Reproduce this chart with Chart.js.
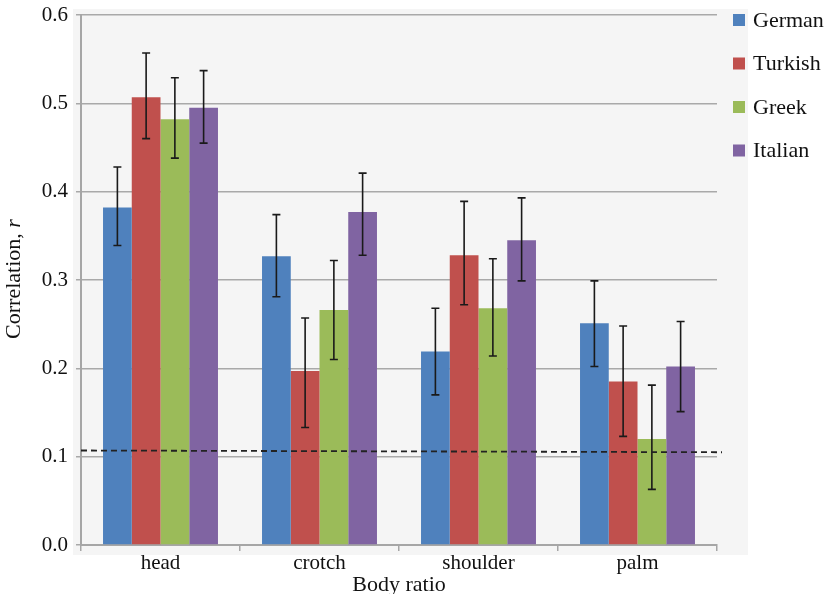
<!DOCTYPE html>
<html>
<head>
<meta charset="utf-8">
<script src="https://cdn.jsdelivr.net/npm/chart.js@4.4.1/dist/chart.umd.min.js"></script>
<style>
  html, body { margin: 0; padding: 0; background: #fff; }
  #wrap { width: 827px; height: 594px; position: relative; }
</style>
</head>
<body>
<div id="wrap"><canvas id="ratioChart"></canvas></div>
<script>
// body ratios on the x axis
const categories = ["head", "crotch", "shoulder", "palm"];

// mean correlation per group
const german  = [0.382, 0.327, 0.219, 0.251];
const turkish = [0.507, 0.197, 0.328, 0.185];
const greek   = [0.482, 0.266, 0.268, 0.120];
const italian = [0.495, 0.377, 0.345, 0.202];

// error bar ends (low / high)
const germanLow   = [0.339, 0.281, 0.170, 0.202];
const germanHigh  = [0.428, 0.374, 0.268, 0.299];
const turkishLow  = [0.460, 0.133, 0.272, 0.123];
const turkishHigh = [0.557, 0.257, 0.389, 0.248];
const greekLow    = [0.438, 0.210, 0.214, 0.063];
const greekHigh   = [0.529, 0.322, 0.324, 0.181];
const italianLow  = [0.455, 0.328, 0.299, 0.151];
const italianHigh = [0.537, 0.421, 0.393, 0.253];

// dashed significance line (left end, right end)
const thresholdLine = [0.107, 0.105];

const yTicks = [0.0, 0.1, 0.2, 0.3, 0.4, 0.5, 0.6];

const serif = "'Liberation Serif', 'DejaVu Serif', serif";

const errLow  = [germanLow, turkishLow, greekLow, italianLow];
const errHigh = [germanHigh, turkishHigh, greekHigh, italianHigh];

// light grey panel behind the plot
const panelBg = {
    id: "panelBg",
    beforeDraw(chart) {
        const { ctx, chartArea: a } = chart;
        ctx.save();
        ctx.fillStyle = "#f5f5f5";
        ctx.fillRect(a.left - 8, a.top - 6, a.right - a.left + 39, a.bottom - a.top + 16);
        ctx.restore();
    }
};

// error bars + dashed threshold line
const extras = {
    id: "extras",
    afterDatasetsDraw(chart) {
        const { ctx, scales: { y }, chartArea: a } = chart;
        ctx.save();
        ctx.strokeStyle = "#1a1a1a";
        ctx.lineWidth = 1.6;
        chart.data.datasets.forEach((ds, di) => {
            const meta = chart.getDatasetMeta(di);
            meta.data.forEach((bar, i) => {
                const yl = y.getPixelForValue(errLow[di][i]);
                const yh = y.getPixelForValue(errHigh[di][i]);
                ctx.beginPath();
                ctx.moveTo(bar.x, yl); ctx.lineTo(bar.x, yh);
                ctx.moveTo(bar.x - 4, yl); ctx.lineTo(bar.x + 4, yl);
                ctx.moveTo(bar.x - 4, yh); ctx.lineTo(bar.x + 4, yh);
                ctx.stroke();
            });
        });
        ctx.strokeStyle = "#222";
        ctx.lineWidth = 1.8;
        ctx.setLineDash([6, 4]);
        ctx.beginPath();
        ctx.moveTo(a.left, y.getPixelForValue(thresholdLine[0]));
        ctx.lineTo(a.right + 5, y.getPixelForValue(thresholdLine[1]));
        ctx.stroke();
        ctx.restore();
    },
    afterDraw(chart) {
        const { ctx } = chart;
        ctx.save();
        // y axis title with italic r
        const t1 = "Correlation, ";
        const t2 = "r";
        ctx.font = "22px " + serif;
        const w1 = ctx.measureText(t1).width;
        ctx.font = "italic 22px " + serif;
        const w2 = ctx.measureText(t2).width;
        ctx.translate(14, 279);
        ctx.rotate(-Math.PI / 2);
        ctx.fillStyle = "#111";
        ctx.textBaseline = "middle";
        ctx.textAlign = "left";
        ctx.font = "22px " + serif;
        ctx.fillText(t1, -(w1 + w2) / 2, 0);
        ctx.font = "italic 22px " + serif;
        ctx.fillText(t2, -(w1 + w2) / 2 + w1, 0);
        ctx.restore();

        // legend
        ctx.save();
        ctx.font = "22px " + serif;
        ctx.textBaseline = "middle";
        chart.data.datasets.forEach((ds, i) => {
            const cy = 20 + i * 43.5;
            ctx.fillStyle = ds.backgroundColor;
            ctx.fillRect(733, cy - 6, 12, 12);
            ctx.fillStyle = "#111";
            ctx.fillText(ds.label, 753, cy + 1);
        });
        ctx.restore();
    }
};

const ctx = document.getElementById("ratioChart").getContext("2d");

new Chart(ctx, {
    type: "bar",
    data: {
        labels: categories,
        datasets: [
            { label: "German",  data: german,  backgroundColor: "#4f81bd" },
            { label: "Turkish", data: turkish, backgroundColor: "#c0504d" },
            { label: "Greek",   data: greek,   backgroundColor: "#9bbb59" },
            { label: "Italian", data: italian, backgroundColor: "#8064a2" }
        ]
    },
    options: {
        responsive: true,
        maintainAspectRatio: false,
        animation: false,
        categoryPercentage: 0.723,
        barPercentage: 1.0,
        layout: { padding: { top: 15, right: 110, left: 0, bottom: 0 } },
        plugins: {
            legend: { display: false },
            tooltip: { enabled: false }
        },
        scales: {
            x: {
                afterFit: s => { s.height = 49; },
                grid: {
                    drawOnChartArea: false,
                    drawTicks: true,
                    tickLength: 6,
                    color: "#a6a6a6",
                    lineWidth: 1.5
                },
                border: { color: "#a6a6a6", width: 2 },
                ticks: {
                    color: "#111",
                    padding: 0,
                    font: { family: serif, size: 21 }
                },
                title: {
                    display: true,
                    text: "Body ratio",
                    color: "#111",
                    font: { family: serif, size: 22, lineHeight: 1 },
                    padding: { top: 0, bottom: -2 }
                }
            },
            y: {
                min: 0,
                max: 0.6,
                afterFit: s => { s.width = 81; s.paddingTop = 0; s.paddingBottom = 0; },
                afterBuildTicks: s => { s.ticks = yTicks.map(v => ({ value: v })); },
                grid: {
                    color: "#a9a9a9",
                    lineWidth: 1.5,
                    tickLength: 5
                },
                border: { color: "#a6a6a6", width: 2 },
                ticks: {
                    color: "#111",
                    padding: 8,
                    font: { family: serif, size: 21 },
                    callback: v => Number(v).toFixed(1)
                }
            }
        }
    },
    plugins: [panelBg, extras]
});
</script>
</body>
</html>
